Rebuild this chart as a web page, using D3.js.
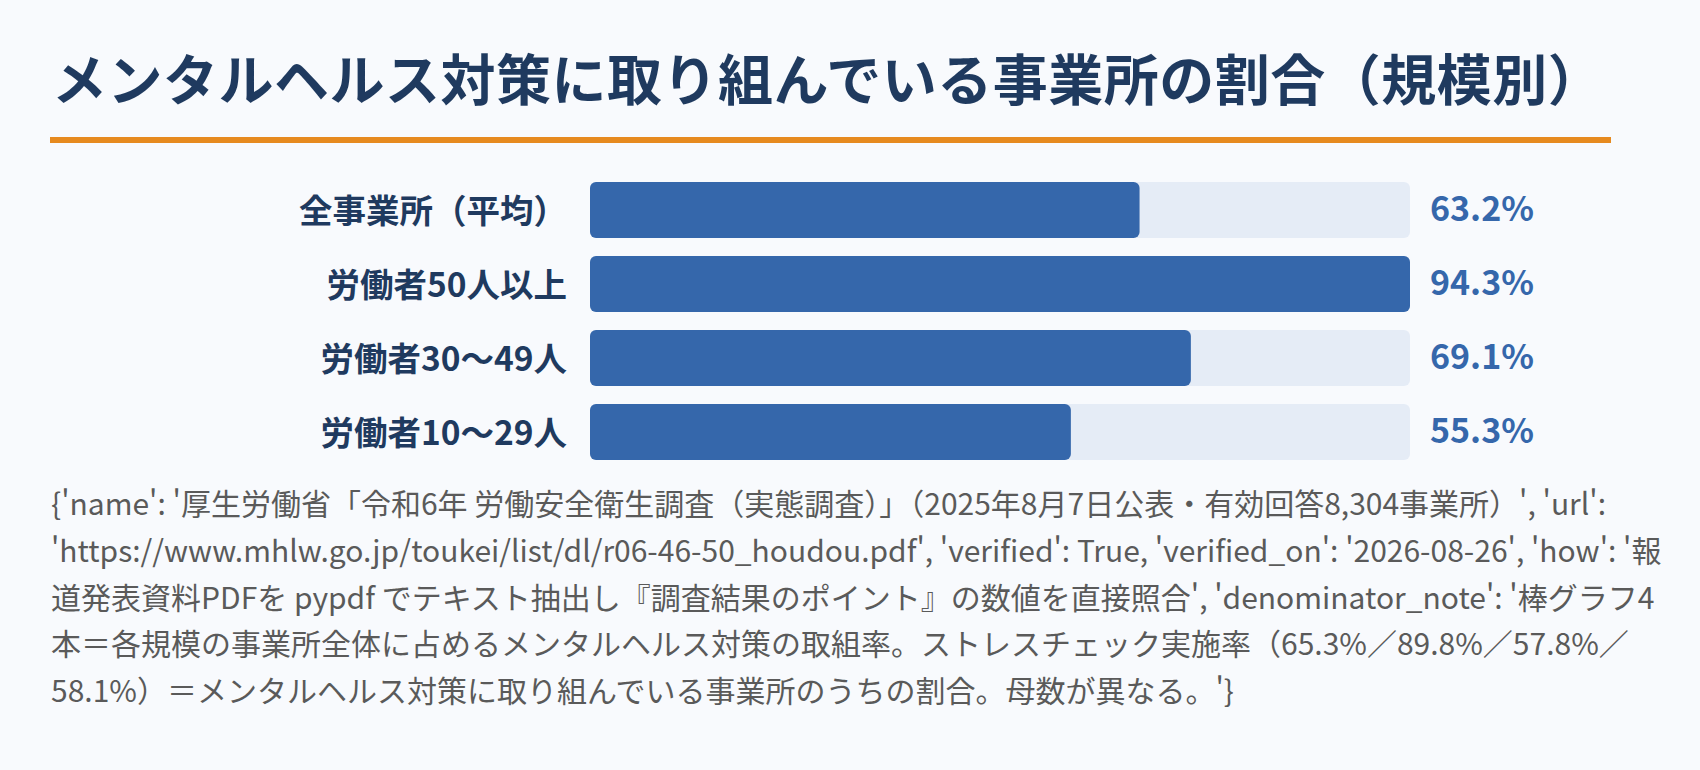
<!DOCTYPE html>
<html lang="ja">
<head>
<meta charset="utf-8">
<script src="https://cdn.jsdelivr.net/npm/d3@7"></script>
<style>
  html, body { margin: 0; padding: 0; background: #f8fafd; }
  svg { display: block; }
</style>
</head>
<body>
<div id="chart"></div>
<script>
// data
const title = "メンタルヘルス対策に取り組んでいる事業所の割合（規模別）";
const categories = ["全事業所（平均）", "労働者50人以上", "労働者30〜49人", "労働者10〜29人"];
const values = [63.2, 94.3, 69.1, 55.3];
const sourceLines = [
  "{'name': '厚生労働省「令和6年 労働安全衛生調査（実態調査）」（2025年8月7日公表・有効回答8,304事業所）', 'url':",
  "'https://www.mhlw.go.jp/toukei/list/dl/r06-46-50_houdou.pdf', 'verified': True, 'verified_on': '2026-08-26', 'how': '報",
  "道発表資料PDFを pypdf でテキスト抽出し『調査結果のポイント』の数値を直接照合', 'denominator_note': '棒グラフ4",
  "本＝各規模の事業所全体に占めるメンタルヘルス対策の取組率。ストレスチェック実施率（65.3%／89.8%／57.8%／",
  "58.1%）＝メンタルヘルス対策に取り組んでいる事業所のうちの割合。母数が異なる。'}"
];

const width = 1700, height = 770;
const font = "'Noto Sans CJK JP', 'Noto Sans', sans-serif";
const navy = "#1f3a5f", blue = "#3567ab", track = "#e5ecf6";

const svg = d3.select("#chart").append("svg")
  .attr("width", width)
  .attr("height", height)
  .attr("viewBox", [0, 0, width, height]);

svg.append("rect")
  .attr("width", width)
  .attr("height", height)
  .attr("fill", "#f8fafd");

// title + orange rule
svg.append("text")
  .attr("x", 52)
  .attr("y", 100)
  .attr("font-family", font)
  .attr("font-weight", 700)
  .attr("font-size", 55)
  .attr("letter-spacing", 0.5)
  .attr("fill", navy)
  .text(title);

svg.append("rect")
  .attr("x", 50)
  .attr("y", 137)
  .attr("width", 1561)
  .attr("height", 6)
  .attr("fill", "#e68a1f");

const x = d3.scaleLinear()
  .domain([0, d3.max(values)])
  .range([590, 1410]);

const y = d3.scaleBand()
  .domain(categories)
  .range([182, 460])
  .paddingInner(18 / 74)
  .paddingOuter(0);

const rows = svg.append("g")
  .selectAll("g")
  .data(categories)
  .join("g")
  .attr("transform", d => `translate(0,${y(d)})`);

rows.append("rect")
  .attr("x", x(0))
  .attr("width", x.range()[1] - x(0))
  .attr("height", y.bandwidth())
  .attr("rx", 6)
  .attr("fill", track);

rows.append("rect")
  .attr("x", x(0))
  .attr("width", (d, i) => x(values[i]) - x(0))
  .attr("height", y.bandwidth())
  .attr("rx", 6)
  .attr("fill", blue);

rows.append("text")
  .attr("x", x(0) - 23)
  .attr("y", y.bandwidth() / 2 + 13)
  .attr("text-anchor", "end")
  .attr("font-family", font)
  .attr("font-weight", 700)
  .attr("font-size", 33.5)
  .attr("fill", navy)
  .text(d => d);

rows.append("text")
  .attr("x", x.range()[1] + 20)
  .attr("y", y.bandwidth() / 2 + 11)
  .attr("font-family", font)
  .attr("font-weight", 700)
  .attr("font-size", 34)
  .attr("fill", blue)
  .text((d, i) => values[i].toFixed(1) + "%");

// source note
svg.append("g")
  .selectAll("text")
  .data(sourceLines)
  .join("text")
  .attr("x", 51)
  .attr("y", (d, i) => 515 + i * 46.75)
  .attr("font-family", font)
  .attr("font-size", 30)
  .attr("fill", "#5a5a5a")
  .text(d => d);
</script>
</body>
</html>
